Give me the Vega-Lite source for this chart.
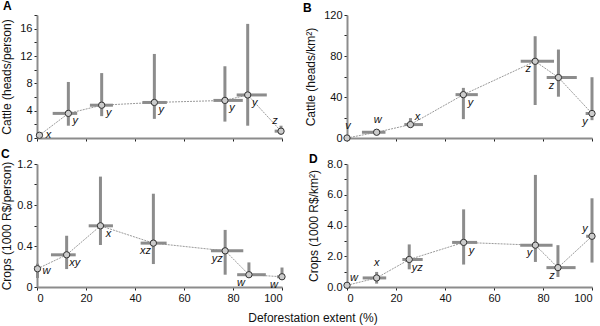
{
  "$schema": "https://vega.github.io/schema/vega-lite/v6.json",
  "autosize": {"type": "none"},
  "padding": {"left": 37, "top": 15, "right": 563, "bottom": 311},
  "background": "white",
  "config": {
    "font": "Liberation Sans",
    "view": {"stroke": null},
    "axis": {"domainColor": "#8c8c8c", "domainWidth": 2, "tickColor": "#222222", "tickSize": 3, "labelPadding": 2, "labelOverlap": false, "labelFont": "Liberation Sans", "labelFontSize": 11, "labelColor": "#111111", "titleFont": "Liberation Sans", "titleFontSize": 12, "titleFontWeight": "normal", "titleColor": "#111111", "titlePadding": 6, "grid": false}
  },
  "data": {"values": [
    {"panel": "A", "x": 1, "xlo": 1, "xhi": 1, "y": 0.4, "ylo": 0.4, "yhi": 0.4, "label": "x", "side": "r"},
    {"panel": "A", "x": 12.8, "xlo": 6.4, "xhi": 16.4, "y": 3.6, "ylo": 1.8, "yhi": 8.2, "label": "y", "side": "br"},
    {"panel": "A", "x": 26.4, "xlo": 21.6, "xhi": 31, "y": 4.8, "ylo": 3.2, "yhi": 9.5, "label": "y", "side": "br"},
    {"panel": "A", "x": 47.9, "xlo": 43, "xhi": 53, "y": 5.2, "ylo": 2.8, "yhi": 12.3, "label": "y", "side": "br"},
    {"panel": "A", "x": 76.7, "xlo": 72, "xhi": 84, "y": 5.5, "ylo": 2.4, "yhi": 10.5, "label": "y", "side": "br"},
    {"panel": "A", "x": 86, "xlo": 81.5, "xhi": 93.8, "y": 6.3, "ylo": 1.8, "yhi": 16.7, "label": "y", "side": "br"},
    {"panel": "A", "x": 99.6, "xlo": 97, "xhi": 100, "y": 1.0, "ylo": 0.5, "yhi": 1.8, "label": "z", "side": "al"},
    {"panel": "B", "x": 0, "xlo": 0, "xhi": 0, "y": 0, "ylo": 0, "yhi": 0, "label": "v", "side": "a"},
    {"panel": "B", "x": 12.1, "xlo": 6.1, "xhi": 15.7, "y": 5.6, "ylo": 4, "yhi": 8, "label": "w", "side": "a"},
    {"panel": "B", "x": 25.9, "xlo": 23.4, "xhi": 31, "y": 13.1, "ylo": 10.1, "yhi": 19.4, "label": "x", "side": "ar"},
    {"panel": "B", "x": 47.5, "xlo": 44.3, "xhi": 53.4, "y": 42.3, "ylo": 18.4, "yhi": 48.9, "label": "y", "side": "br"},
    {"panel": "B", "x": 76.8, "xlo": 70.9, "xhi": 84.5, "y": 74.8, "ylo": 32.2, "yhi": 99.3, "label": "z", "side": "bl"},
    {"panel": "B", "x": 86.3, "xlo": 81.5, "xhi": 93.8, "y": 59, "ylo": 40.3, "yhi": 86.3, "label": "z", "side": "bl"},
    {"panel": "B", "x": 100, "xlo": 97.4, "xhi": 100, "y": 23.9, "ylo": 17.4, "yhi": 59.3, "label": "y", "side": "bl"},
    {"panel": "C", "x": 0.2, "xlo": 0.2, "xhi": 0.2, "y": 0.178, "ylo": 0.088, "yhi": 0.227, "label": "w", "side": "r"},
    {"panel": "C", "x": 12.1, "xlo": 5.7, "xhi": 15.8, "y": 0.314, "ylo": 0.175, "yhi": 0.5, "label": "xy", "side": "br"},
    {"panel": "C", "x": 25.9, "xlo": 21.1, "xhi": 31, "y": 0.597, "ylo": 0.41, "yhi": 1.077, "label": "x", "side": "br"},
    {"panel": "C", "x": 47.5, "xlo": 42.3, "xhi": 52.9, "y": 0.428, "ylo": 0.224, "yhi": 0.91, "label": "xz", "side": "bl"},
    {"panel": "C", "x": 76.8, "xlo": 71, "xhi": 84.2, "y": 0.353, "ylo": 0.12, "yhi": 0.557, "label": "yz", "side": "bl"},
    {"panel": "C", "x": 86.5, "xlo": 81.7, "xhi": 93.4, "y": 0.12, "ylo": 0.12, "yhi": 0.24, "label": "w", "side": "bl"},
    {"panel": "C", "x": 100, "xlo": 98, "xhi": 100, "y": 0.1, "ylo": 0.09, "yhi": 0.19, "label": "w", "side": "bl"},
    {"panel": "D", "x": 0, "xlo": 0, "xhi": 0, "y": 0.11, "ylo": 0.11, "yhi": 0.11, "label": "w", "side": "ar"},
    {"panel": "D", "x": 12.1, "xlo": 6.4, "xhi": 16, "y": 0.59, "ylo": 0.22, "yhi": 0.98, "label": "x", "side": "a"},
    {"panel": "D", "x": 25.4, "xlo": 22.6, "xhi": 30.9, "y": 1.79, "ylo": 1.15, "yhi": 2.77, "label": "yz", "side": "br"},
    {"panel": "D", "x": 47.6, "xlo": 42.9, "xhi": 53.1, "y": 2.9, "ylo": 1.46, "yhi": 5.05, "label": "y", "side": "br"},
    {"panel": "D", "x": 76.9, "xlo": 70.7, "xhi": 83.9, "y": 2.72, "ylo": 1.63, "yhi": 7.29, "label": "y", "side": "bl"},
    {"panel": "D", "x": 86.1, "xlo": 81.4, "xhi": 93.3, "y": 1.26, "ylo": 0.65, "yhi": 2.72, "label": "z", "side": "bl"},
    {"panel": "D", "x": 100, "xlo": 97.6, "xhi": 100, "y": 3.3, "ylo": 1.59, "yhi": 5.77, "label": "y", "side": "al"}
  ]},
  "columns": 2,
  "spacing": {"row": 26, "column": 65},
  "bounds": "flush",
  "title": {"text": "Deforestation extent  (%)", "orient": "bottom", "anchor": "middle", "frame": "bounds", "fontSize": 12, "fontWeight": "normal", "font": "Liberation Sans", "color": "#111111", "offset": 10, "dx": 14},
  "concat": [
    {
      "width": 245, "height": 123,
      "title": {"text": "A", "anchor": "start", "frame": "group", "fontSize": 12, "fontWeight": "bold", "font": "Liberation Sans", "color": "#000000", "dx": -34, "offset": -4},
      "transform": [{"filter": "datum.panel === 'A'"}],
      "layer": [
        {"mark": {"type": "line", "color": "#9a9a9a", "strokeWidth": 1, "strokeDash": [2, 1]},
         "encoding": {
           "x": {"field": "x", "type": "quantitative", "title": null, "scale": {"domain": [0, 100], "nice": false}, "axis": {"values": [0, 20, 40, 60, 80, 100], "tickCount": 20, "labels": false}},
           "y": {"field": "y", "type": "quantitative", "title": "Cattle (heads/person)", "scale": {"domain": [0, 18], "nice": false}, "axis": {"values": [0, 2, 4, 6, 8, 10, 12, 14, 16, 18], "tickCount": 20, "labelOverlap": false, "labelExpr": "datum.value % 4 === 0 && datum.value <= 16 ? datum.label : ''"}}}},
        {"mark": {"type": "rule", "color": "#8c8c8c", "strokeWidth": 3},
         "encoding": {"x": {"field": "x", "type": "quantitative", "title": null}, "y": {"field": "ylo", "type": "quantitative", "title": "Cattle (heads/person)"}, "y2": {"field": "yhi"}}},
        {"mark": {"type": "rule", "color": "#8c8c8c", "strokeWidth": 3},
         "encoding": {"y": {"field": "y", "type": "quantitative", "title": "Cattle (heads/person)"}, "x": {"field": "xlo", "type": "quantitative", "title": null}, "x2": {"field": "xhi"}}},
        {"mark": {"type": "circle", "size": 40, "fill": "#cccccc", "stroke": "#333333", "strokeWidth": 1, "opacity": 1},
         "encoding": {"x": {"field": "x", "type": "quantitative", "title": null}, "y": {"field": "y", "type": "quantitative", "title": "Cattle (heads/person)"}}},
        {"transform": [{"filter": "datum.side === 'r'"}], "mark": {"type": "text", "fontStyle": "italic", "fontSize": 11, "color": "#111111", "dx": 9, "dy": 0},
         "encoding": {"x": {"field": "x", "type": "quantitative", "title": null}, "y": {"field": "y", "type": "quantitative", "title": "Cattle (heads/person)"}, "text": {"field": "label"}}},
        {"transform": [{"filter": "datum.side === 'br'"}], "mark": {"type": "text", "fontStyle": "italic", "fontSize": 11, "color": "#111111", "dx": 7, "dy": 8},
         "encoding": {"x": {"field": "x", "type": "quantitative", "title": null}, "y": {"field": "y", "type": "quantitative", "title": "Cattle (heads/person)"}, "text": {"field": "label"}}},
        {"transform": [{"filter": "datum.side === 'al'"}], "mark": {"type": "text", "fontStyle": "italic", "fontSize": 11, "color": "#111111", "dx": -6, "dy": -10},
         "encoding": {"x": {"field": "x", "type": "quantitative", "title": null}, "y": {"field": "y", "type": "quantitative", "title": "Cattle (heads/person)"}, "text": {"field": "label"}}}
      ]
    },
    {
      "width": 245, "height": 123,
      "title": {"text": "B", "anchor": "start", "frame": "group", "fontSize": 12, "fontWeight": "bold", "font": "Liberation Sans", "color": "#000000", "dx": -44, "offset": -6},
      "transform": [{"filter": "datum.panel === 'B'"}],
      "layer": [
        {"mark": {"type": "line", "color": "#9a9a9a", "strokeWidth": 1, "strokeDash": [2, 1]},
         "encoding": {
           "x": {"field": "x", "type": "quantitative", "title": null, "scale": {"domain": [0, 100], "nice": false}, "axis": {"values": [0, 20, 40, 60, 80, 100], "tickCount": 20, "labels": false}},
           "y": {"field": "y", "type": "quantitative", "title": "Cattle (heads/km²)", "scale": {"domain": [0, 120], "nice": false}, "axis": {"values": [0, 20, 40, 60, 80, 100, 120], "tickCount": 20, "labelOverlap": false, "labelExpr": "datum.value % 40 === 0 ? datum.label : ''"}}}},
        {"mark": {"type": "rule", "color": "#8c8c8c", "strokeWidth": 3},
         "encoding": {"x": {"field": "x", "type": "quantitative", "title": null}, "y": {"field": "ylo", "type": "quantitative", "title": "Cattle (heads/km²)"}, "y2": {"field": "yhi"}}},
        {"mark": {"type": "rule", "color": "#8c8c8c", "strokeWidth": 3},
         "encoding": {"y": {"field": "y", "type": "quantitative", "title": "Cattle (heads/km²)"}, "x": {"field": "xlo", "type": "quantitative", "title": null}, "x2": {"field": "xhi"}}},
        {"mark": {"type": "circle", "size": 40, "fill": "#cccccc", "stroke": "#333333", "strokeWidth": 1, "opacity": 1},
         "encoding": {"x": {"field": "x", "type": "quantitative", "title": null}, "y": {"field": "y", "type": "quantitative", "title": "Cattle (heads/km²)"}}},
        {"transform": [{"filter": "datum.side === 'br'"}], "mark": {"type": "text", "fontStyle": "italic", "fontSize": 11, "color": "#111111", "dx": 7, "dy": 8},
         "encoding": {"x": {"field": "x", "type": "quantitative", "title": null}, "y": {"field": "y", "type": "quantitative", "title": "Cattle (heads/km²)"}, "text": {"field": "label"}}},
        {"transform": [{"filter": "datum.side === 'bl'"}], "mark": {"type": "text", "fontStyle": "italic", "fontSize": 11, "color": "#111111", "dx": -7, "dy": 8},
         "encoding": {"x": {"field": "x", "type": "quantitative", "title": null}, "y": {"field": "y", "type": "quantitative", "title": "Cattle (heads/km²)"}, "text": {"field": "label"}}},
        {"transform": [{"filter": "datum.side === 'a'"}], "mark": {"type": "text", "fontStyle": "italic", "fontSize": 11, "color": "#111111", "dx": 1, "dy": -12},
         "encoding": {"x": {"field": "x", "type": "quantitative", "title": null}, "y": {"field": "y", "type": "quantitative", "title": "Cattle (heads/km²)"}, "text": {"field": "label"}}},
        {"transform": [{"filter": "datum.side === 'ar'"}], "mark": {"type": "text", "fontStyle": "italic", "fontSize": 11, "color": "#111111", "dx": 7, "dy": -8},
         "encoding": {"x": {"field": "x", "type": "quantitative", "title": null}, "y": {"field": "y", "type": "quantitative", "title": "Cattle (heads/km²)"}, "text": {"field": "label"}}}
      ]
    },
    {
      "width": 245, "height": 123,
      "title": {"text": "C", "anchor": "start", "frame": "group", "fontSize": 12, "fontWeight": "bold", "font": "Liberation Sans", "color": "#000000", "dx": -36, "offset": -3},
      "transform": [{"filter": "datum.panel === 'C'"}],
      "layer": [
        {"mark": {"type": "line", "color": "#9a9a9a", "strokeWidth": 1, "strokeDash": [2, 1]},
         "encoding": {
           "x": {"field": "x", "type": "quantitative", "title": null, "scale": {"domain": [0, 100], "nice": false}, "axis": {"values": [0, 20, 40, 60, 80, 100], "tickCount": 20}},
           "y": {"field": "y", "type": "quantitative", "title": "Crops (1000 R$/person)", "scale": {"domain": [0, 1.2], "nice": false}, "axis": {"values": [0, 0.2, 0.4, 0.6, 0.8, 1.0, 1.2], "tickCount": 20, "labelOverlap": false, "titlePadding": 3, "labelExpr": "round(datum.value * 10) % 4 === 0 ? format(datum.value, '.1~f') : ''"}}}},
        {"mark": {"type": "rule", "color": "#8c8c8c", "strokeWidth": 3},
         "encoding": {"x": {"field": "x", "type": "quantitative", "title": null}, "y": {"field": "ylo", "type": "quantitative", "title": "Crops (1000 R$/person)"}, "y2": {"field": "yhi"}}},
        {"mark": {"type": "rule", "color": "#8c8c8c", "strokeWidth": 3},
         "encoding": {"y": {"field": "y", "type": "quantitative", "title": "Crops (1000 R$/person)"}, "x": {"field": "xlo", "type": "quantitative", "title": null}, "x2": {"field": "xhi"}}},
        {"mark": {"type": "circle", "size": 40, "fill": "#cccccc", "stroke": "#333333", "strokeWidth": 1, "opacity": 1},
         "encoding": {"x": {"field": "x", "type": "quantitative", "title": null}, "y": {"field": "y", "type": "quantitative", "title": "Crops (1000 R$/person)"}}},
        {"transform": [{"filter": "datum.side === 'r'"}], "mark": {"type": "text", "fontStyle": "italic", "fontSize": 11, "color": "#111111", "dx": 9, "dy": 2},
         "encoding": {"x": {"field": "x", "type": "quantitative", "title": null}, "y": {"field": "y", "type": "quantitative", "title": "Crops (1000 R$/person)"}, "text": {"field": "label"}}},
        {"transform": [{"filter": "datum.side === 'br'"}], "mark": {"type": "text", "fontStyle": "italic", "fontSize": 11, "color": "#111111", "dx": 8, "dy": 8},
         "encoding": {"x": {"field": "x", "type": "quantitative", "title": null}, "y": {"field": "y", "type": "quantitative", "title": "Crops (1000 R$/person)"}, "text": {"field": "label"}}},
        {"transform": [{"filter": "datum.side === 'bl'"}], "mark": {"type": "text", "fontStyle": "italic", "fontSize": 11, "color": "#111111", "dx": -8, "dy": 8},
         "encoding": {"x": {"field": "x", "type": "quantitative", "title": null}, "y": {"field": "y", "type": "quantitative", "title": "Crops (1000 R$/person)"}, "text": {"field": "label"}}}
      ]
    },
    {
      "width": 245, "height": 123,
      "title": {"text": "D", "anchor": "start", "frame": "group", "fontSize": 12, "fontWeight": "bold", "font": "Liberation Sans", "color": "#000000", "dx": -38, "offset": -8},
      "transform": [{"filter": "datum.panel === 'D'"}],
      "layer": [
        {"mark": {"type": "line", "color": "#9a9a9a", "strokeWidth": 1, "strokeDash": [2, 1]},
         "encoding": {
           "x": {"field": "x", "type": "quantitative", "title": null, "scale": {"domain": [0, 100], "nice": false}, "axis": {"values": [0, 20, 40, 60, 80, 100], "tickCount": 20}},
           "y": {"field": "y", "type": "quantitative", "title": "Crops (1000 R$/km²)", "scale": {"domain": [0, 8], "nice": false}, "axis": {"values": [0, 1, 2, 3, 4, 5, 6, 7, 8], "tickCount": 20, "labelOverlap": false, "labelExpr": "datum.value % 2 === 0 ? datum.label : ''"}}}},
        {"mark": {"type": "rule", "color": "#8c8c8c", "strokeWidth": 3},
         "encoding": {"x": {"field": "x", "type": "quantitative", "title": null}, "y": {"field": "ylo", "type": "quantitative", "title": "Crops (1000 R$/km²)"}, "y2": {"field": "yhi"}}},
        {"mark": {"type": "rule", "color": "#8c8c8c", "strokeWidth": 3},
         "encoding": {"y": {"field": "y", "type": "quantitative", "title": "Crops (1000 R$/km²)"}, "x": {"field": "xlo", "type": "quantitative", "title": null}, "x2": {"field": "xhi"}}},
        {"mark": {"type": "circle", "size": 40, "fill": "#cccccc", "stroke": "#333333", "strokeWidth": 1, "opacity": 1},
         "encoding": {"x": {"field": "x", "type": "quantitative", "title": null}, "y": {"field": "y", "type": "quantitative", "title": "Crops (1000 R$/km²)"}}},
        {"transform": [{"filter": "datum.side === 'br'"}], "mark": {"type": "text", "fontStyle": "italic", "fontSize": 11, "color": "#111111", "dx": 8, "dy": 9},
         "encoding": {"x": {"field": "x", "type": "quantitative", "title": null}, "y": {"field": "y", "type": "quantitative", "title": "Crops (1000 R$/km²)"}, "text": {"field": "label"}}},
        {"transform": [{"filter": "datum.side === 'bl'"}], "mark": {"type": "text", "fontStyle": "italic", "fontSize": 11, "color": "#111111", "dx": -6, "dy": 8},
         "encoding": {"x": {"field": "x", "type": "quantitative", "title": null}, "y": {"field": "y", "type": "quantitative", "title": "Crops (1000 R$/km²)"}, "text": {"field": "label"}}},
        {"transform": [{"filter": "datum.side === 'a'"}], "mark": {"type": "text", "fontStyle": "italic", "fontSize": 11, "color": "#111111", "dx": 0, "dy": -15},
         "encoding": {"x": {"field": "x", "type": "quantitative", "title": null}, "y": {"field": "y", "type": "quantitative", "title": "Crops (1000 R$/km²)"}, "text": {"field": "label"}}},
        {"transform": [{"filter": "datum.side === 'ar'"}], "mark": {"type": "text", "fontStyle": "italic", "fontSize": 11, "color": "#111111", "dx": 7, "dy": -7},
         "encoding": {"x": {"field": "x", "type": "quantitative", "title": null}, "y": {"field": "y", "type": "quantitative", "title": "Crops (1000 R$/km²)"}, "text": {"field": "label"}}},
        {"transform": [{"filter": "datum.side === 'al'"}], "mark": {"type": "text", "fontStyle": "italic", "fontSize": 11, "color": "#111111", "dx": -7, "dy": -7},
         "encoding": {"x": {"field": "x", "type": "quantitative", "title": null}, "y": {"field": "y", "type": "quantitative", "title": "Crops (1000 R$/km²)"}, "text": {"field": "label"}}}
      ]
    }
  ]
}
